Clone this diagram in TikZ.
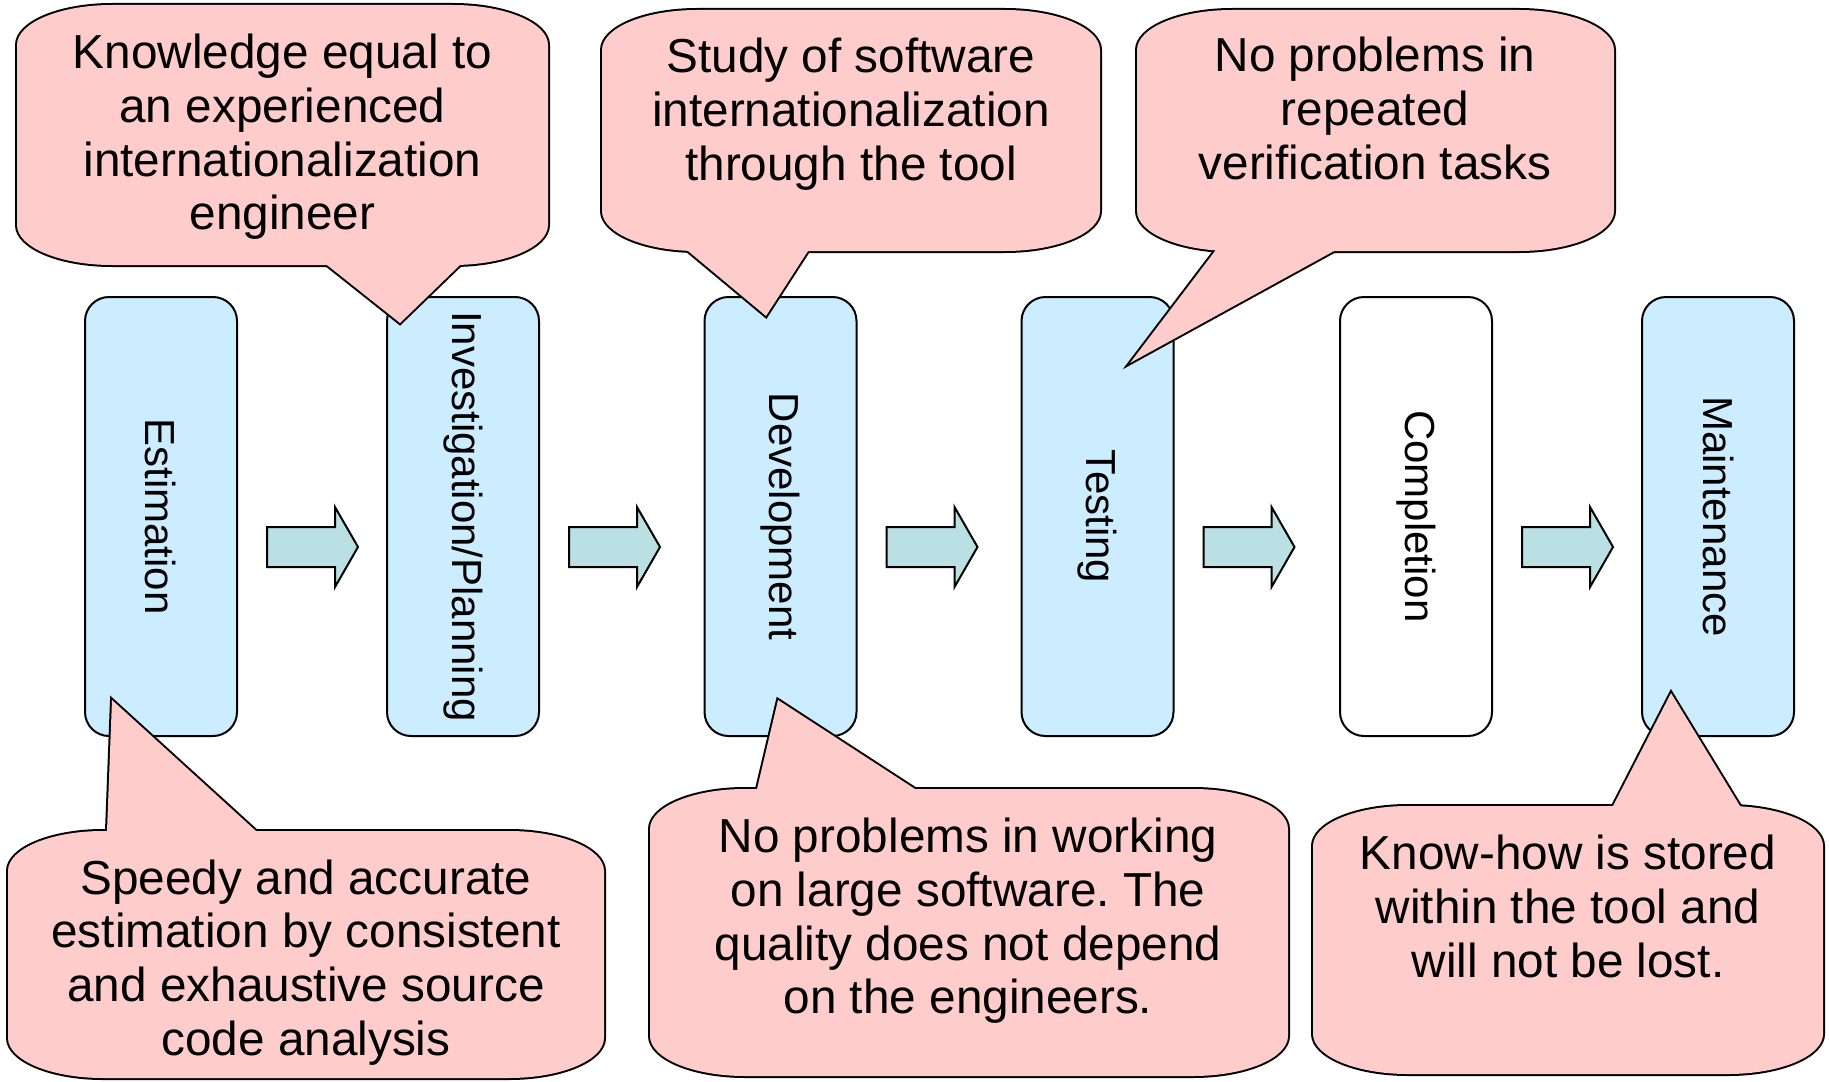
\documentclass[tikz,border=0pt]{standalone}
\usepackage{fontspec}
\setmainfont{Liberation Sans}
\usetikzlibrary{calc}
\frenchspacing
\definecolor{boxblue}{RGB}{204,236,255}
\definecolor{arrowteal}{RGB}{187,224,227}
\definecolor{calloutpink}{RGB}{255,204,204}
\newcommand\crx{95}
\newcommand\cry{40}
% #1 L, #2 T, #3 R, #4 B, #5 tip coordinate, #6 edge x1, #7 edge x2, #8 edge y
\newcommand\callout[8]{%
  \draw[line width=2pt] (#1,#2+\cry) .. controls (#1,#2+0.448*\cry) and (#1+0.448*\crx,#2) .. (#1+\crx,#2)
    -- (#3-\crx,#2) .. controls (#3-0.448*\crx,#2) and (#3,#2+0.448*\cry) .. (#3,#2+\cry)
    -- (#3,#4-\cry) .. controls (#3,#4-0.448*\cry) and (#3-0.448*\crx,#4) .. (#3-\crx,#4)
    -- (#1+\crx,#4) .. controls (#1+0.448*\crx,#4) and (#1,#4-0.448*\cry) .. (#1,#4-\cry) -- cycle;
  \draw[line width=2pt] (#5) -- ($(#5)!1.25!(#6,#8)$) -- ($(#5)!1.25!(#7,#8)$) -- cycle;
  \fill[calloutpink] (#1,#2+\cry) .. controls (#1,#2+0.448*\cry) and (#1+0.448*\crx,#2) .. (#1+\crx,#2)
    -- (#3-\crx,#2) .. controls (#3-0.448*\crx,#2) and (#3,#2+0.448*\cry) .. (#3,#2+\cry)
    -- (#3,#4-\cry) .. controls (#3,#4-0.448*\cry) and (#3-0.448*\crx,#4) .. (#3-\crx,#4)
    -- (#1+\crx,#4) .. controls (#1+0.448*\crx,#4) and (#1,#4-0.448*\cry) .. (#1,#4-\cry) -- cycle;
  \fill[calloutpink] (#5) -- ($(#5)!1.25!(#6,#8)$) -- ($(#5)!1.25!(#7,#8)$) -- cycle;
}
\tikzset{
  stagebox/.style={draw, line width=1pt, fill=boxblue, rounded corners=12pt,
    minimum width=76pt, minimum height=219.5pt, inner sep=0pt},
  btext/.style={rotate=-90, inner sep=0pt, font=\fontsize{21pt}{24pt}\selectfont},
  ctext/.style={align=center, inner sep=0pt, font=\fontsize{23.85pt}{26.85pt}\selectfont},
  barrow/.style={draw, line width=1pt, fill=arrowteal, line join=miter}
}
\newcommand\blockarrow[1]{%
  \draw[barrow] ($(#1.east)+(29,10.5)$) -- ++(68,0) -- ++(0,-20) -- ++(23,40) -- ++(-23,40) -- ++(0,-20) -- ++(-68,0) -- cycle;
}
\begin{document}
\begin{tikzpicture}[x=0.5pt,y=-0.5pt]
\useasboundingbox (0,0) rectangle (1829,1081);
% stage boxes
\node[stagebox] (est) at (161,516.5) {};
\node[stagebox] (inv) at (463,516.5) {};
\node[stagebox] (dev) at (780.5,516.5) {};
\node[stagebox] (tst) at (1097.5,516.5) {};
\node[stagebox, fill=white] (cmp) at (1416,516.5) {};
\node[stagebox] (mnt) at (1718,516.5) {};
\node[btext] (estT) at (est) {Estimation};
\node[btext] (invT) at (inv) {Investigation/Planning};
\node[btext] (devT) at (dev) {Development};
\node[btext] (tstT) at (tst) {Testing};
\node[btext] (cmpT) at (cmp) {Completion};
\node[btext] (mntT) at (mnt) {Maintenance};
% block arrows
\blockarrow{est}
\blockarrow{inv}
\blockarrow{dev}
\blockarrow{tst}
\blockarrow{cmp}
% callout tips
\coordinate (t1) at (400,323);
\coordinate (t2) at (766,316);
\coordinate (t3) at (1130,363);
\coordinate (t4) at (112,700);
\coordinate (t5) at (778,700);
\coordinate (t6) at (1671,693);
% callouts
\callout{17}{5}{548}{265}{t1}{327}{460}{265}
\callout{602}{10}{1100}{251}{t2}{688}{808}{251}
\callout{1137}{10}{1614}{251}{t3}{1215}{1334}{251}
\callout{8}{831}{604}{1078}{t4}{107}{256}{831}
\callout{650}{789}{1288}{1076}{t5}{757}{915}{789}
\callout{1313}{806}{1823}{1074}{t6}{1613}{1740}{806}
% callout texts
\node[ctext] (c1) at (282.5,137) {Knowledge equal to\\an experienced\\internationalization\\engineer};
\node[ctext] (c2) at (851,114) {Study of software\\internationalization\\through the tool};
\node[ctext] (c3) at (1375,108.5) {No problems in\\repeated\\verification tasks};
\node[ctext] (c4) at (306,962.5) {Speedy and accurate\\estimation by consistent\\and exhaustive source\\code analysis};
\node[ctext] (c5) at (968,921) {No problems in working\\on large software. The\\quality does not depend\\on the engineers.};
\node[ctext] (c6) at (1568,906.5) {Know-how is stored\\within the tool and\\will not be lost.};
\end{tikzpicture}
\end{document}
